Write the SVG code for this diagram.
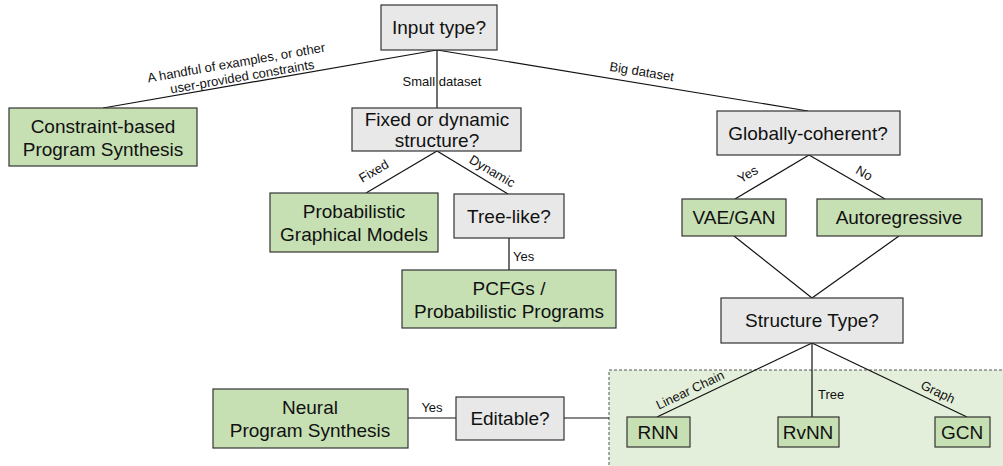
<svg xmlns="http://www.w3.org/2000/svg" width="1003" height="466" viewBox="0 0 1003 466">
<style>
.g{fill:#c6e0b4;stroke:#333;stroke-width:1.2}
.q{fill:#e8e8e8;stroke:#333;stroke-width:1.2}
.t{font-family:"Liberation Sans",Arial,sans-serif;font-size:19px;fill:#111;text-anchor:middle}
.s{font-family:"Liberation Sans",Arial,sans-serif;font-size:13px;fill:#111;text-anchor:middle}
.c line{stroke:#111;stroke-width:1.2}
</style>
<rect x="609" y="370" width="400" height="100" fill="#e3efda" stroke="#555" stroke-width="1" stroke-dasharray="3,2"/>
<g class="c" id="connectors">
<line x1="437" y1="50" x2="103" y2="108"/>
<line x1="437" y1="50" x2="437" y2="108"/>
<line x1="437" y1="50" x2="808" y2="111"/>
<line x1="437" y1="151" x2="366" y2="193"/>
<line x1="437" y1="151" x2="508" y2="194"/>
<line x1="509" y1="238" x2="509" y2="270"/>
<line x1="809" y1="155" x2="735" y2="199"/>
<line x1="809" y1="155" x2="885" y2="199"/>
<line x1="734" y1="236" x2="812" y2="298"/>
<line x1="899" y1="236" x2="812" y2="298"/>
<line x1="812" y1="343" x2="657" y2="417"/>
<line x1="812" y1="343" x2="812" y2="417"/>
<line x1="812" y1="343" x2="967" y2="417"/>
<line x1="408" y1="418" x2="456" y2="418"/>
<line x1="564" y1="418" x2="609" y2="418"/>
<text class="s" transform="translate(237,67) rotate(-9.85)">A handful of examples, or other</text>
<text class="s" transform="translate(243,81) rotate(-9.85)">user-provided constraints</text>
<text class="s" x="442" y="86">Small dataset</text>
<text class="s" transform="translate(641,76) rotate(9.34)">Big dataset</text>
<text class="s" transform="translate(376,175) rotate(-30.6)">Fixed</text>
<text class="s" transform="translate(490,175) rotate(30.6)">Dynamic</text>
<text class="s" x="513" y="261" style="text-anchor:start">Yes</text>
<text class="s" transform="translate(750,178) rotate(-30.7)">Yes</text>
<text class="s" transform="translate(862,177) rotate(30)">No</text>
<text class="s" transform="translate(692,394) rotate(-25.5)">Linear Chain</text>
<text class="s" x="818" y="399" style="text-anchor:start">Tree</text>
<text class="s" transform="translate(936,396) rotate(25.5)">Graph</text>
<text class="s" x="432" y="412">Yes</text>
</g>
<g id="input"><rect class="q" x="381" y="5" width="116" height="45"/><text class="t" x="439" y="34">Input type?</text></g>
<g id="constraint"><rect class="g" x="9" y="108" width="188" height="58"/><text class="t" x="103" y="133">Constraint-based</text><text class="t" x="103" y="156">Program Synthesis</text></g>
<g id="fixeddyn"><rect class="q" x="352" y="108" width="169" height="43"/><text class="t" x="437" y="126">Fixed or dynamic</text><text class="t" x="437" y="147">structure?</text></g>
<g id="global"><rect class="q" x="717" y="111" width="183" height="44"/><text class="t" x="808" y="140">Globally-coherent?</text></g>
<g id="pgm"><rect class="g" x="270" y="193" width="168" height="59"/><text class="t" x="354" y="218">Probabilistic</text><text class="t" x="354" y="241">Graphical Models</text></g>
<g id="treelike"><rect class="q" x="454" y="194" width="110" height="44"/><text class="t" x="509" y="223">Tree-like?</text></g>
<g id="pcfg"><rect class="g" x="402" y="270" width="214" height="58"/><text class="t" x="509" y="295">PCFGs /</text><text class="t" x="509" y="318">Probabilistic Programs</text></g>
<g id="vaegan"><rect class="g" x="682" y="199" width="104" height="37"/><text class="t" x="734" y="224">VAE/GAN</text></g>
<g id="autoreg"><rect class="g" x="817" y="199" width="165" height="37"/><text class="t" x="899" y="224">Autoregressive</text></g>
<g id="structtype"><rect class="q" x="721" y="298" width="182" height="45"/><text class="t" x="812" y="327">Structure Type?</text></g>
<g id="rnn"><rect class="g" x="627" y="417" width="63" height="30"/><text class="t" x="658" y="439">RNN</text></g>
<g id="rvnn"><rect class="g" x="778" y="417" width="61" height="30"/><text class="t" x="808" y="439">RvNN</text></g>
<g id="gcn"><rect class="g" x="935" y="417" width="55" height="30"/><text class="t" x="962" y="439">GCN</text></g>
<g id="editable"><rect class="q" x="456" y="397" width="108" height="43"/><text class="t" x="510" y="425">Editable?</text></g>
<g id="neural"><rect class="g" x="213" y="389" width="195" height="59"/><text class="t" x="310" y="414">Neural</text><text class="t" x="310" y="437">Program Synthesis</text></g>
</svg>
